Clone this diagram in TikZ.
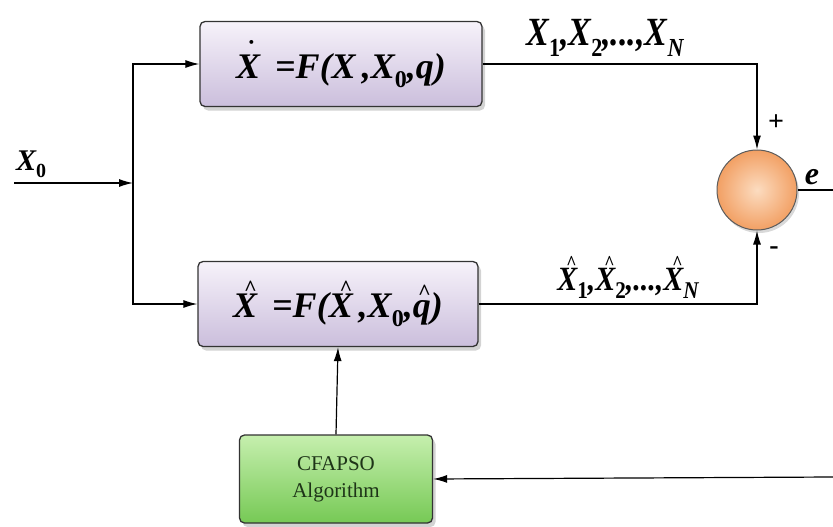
\documentclass[tikz,border=0pt]{standalone}
\usepackage{fontspec}
\setmainfont{Liberation Serif}
\newfontfamily\tf{Liberation Serif}
\usetikzlibrary{arrows.meta,shadows}
\definecolor{lavtop}{HTML}{F6F2FA}
\definecolor{lavbot}{HTML}{CBBEDC}
\definecolor{grntop}{HTML}{C6EFAE}
\definecolor{grnbot}{HTML}{76C955}
\definecolor{orin}{HTML}{FCDCC0}
\definecolor{orout}{HTML}{F2A064}
\definecolor{bord}{HTML}{333333}
\definecolor{algtext}{HTML}{1E3418}
\newcommand\lsub[3]{\raisebox{-#1}{\fontsize{#2}{#2}\selectfont #3}}
\newcommand\accX[4]{\makebox[0pt][l]{\hspace{#1}\raisebox{#2}{\upshape\fontsize{#3}{#3}\selectfont #4}}}
\tikzset{
  every node/.append style={font=\tf},
  procbox/.style={draw=bord, line width=1.3pt, rounded corners=5pt,
    top color=lavtop, bottom color=lavbot, minimum width=282pt, minimum height=85pt,
    drop shadow={opacity=0.35, shadow xshift=3pt, shadow yshift=-4pt}, inner sep=0pt},
  algbox/.style={draw=bord, line width=1.3pt, rounded corners=5pt,
    top color=grntop, bottom color=grnbot, minimum width=193pt, minimum height=88pt,
    drop shadow={opacity=0.35, shadow xshift=3pt, shadow yshift=-4pt}, inner sep=0pt,
    align=center, text=algtext, font=\tf\fontsize{21}{25}\selectfont},
  sumnode/.style={circle, draw=bord!80, line width=1pt, minimum size=80pt,
    inner color=orin, outer color=orout, drop shadow={opacity=0.3, shadow xshift=2pt, shadow yshift=-3pt}},
  conn/.style={line width=1.2pt, black},
  arr/.style={conn, -{Latex[length=14pt,width=8pt]}},
  lbl/.style={inner sep=0pt, font=\tf\bfseries\itshape}
}
\begin{document}
\begin{tikzpicture}[x=1pt,y=-1pt]
\useasboundingbox (0,0) rectangle (833,527);
\node[procbox] (top) at (341,64) {\tf\fontsize{36}{40}\selectfont\bfseries\itshape
  \accX{0.3em}{0.55em}{26pt}{\textbf{˙}}X\ \,=F(X\,,X\lsub{9pt}{24pt}{\upshape 0},q)};
\node[procbox, minimum width=280pt] (bot) at (338,304) {\tf\fontsize{36}{40}\selectfont\bfseries\itshape
  \accX{0.3em}{0.6em}{22pt}{\textasciicircum}X\ \,=F(\accX{0.3em}{0.6em}{22pt}{\textasciicircum}X\,,X\lsub{9pt}{24pt}{\upshape 0},\accX{0.15em}{0.5em}{22pt}{\textasciicircum}q)};
\node[algbox] (alg) at (336,479) {CFAPSO\\[2pt]Algorithm};
\node[sumnode] (sum) at (757,190) {};
\coordinate (in) at (14,183);
\coordinate (split) at (133,183);
\coordinate (eout) at (833,190);
\coordinate (fb) at (833,477);
\draw[arr] (in) -- (split);
\draw[arr] (split) |- (top.west);
\draw[arr] (split) |- (bot.west);
\draw[arr] (top.east) -| (sum.north);
\draw[arr] (bot.east) -| (sum.south);
\draw[conn] (sum.east) -- (eout);
\draw[arr] (fb) -- (alg.east);
\draw[arr] (alg.north) -- (bot.south);
\node[lbl, anchor=base west] (lx0) at (16,170) {\fontsize{30}{30}\selectfont X\lsub{7pt}{20pt}{\upshape 0}};
\node[lbl, anchor=base] (lxs) at (605,46) {\scalebox{0.85}[1]{\fontsize{40}{40}\selectfont X\lsub{10pt}{26pt}{\upshape 1},X\lsub{10pt}{26pt}{\upshape 2},...,X\lsub{10pt}{26pt}{N}}};
\node[lbl, anchor=base] (lxh) at (628,290) {\scalebox{0.88}[1]{\fontsize{34}{34}\selectfont \accX{0.3em}{0.6em}{20pt}{\textasciicircum}X\lsub{8pt}{24pt}{\upshape 1},\accX{0.3em}{0.6em}{20pt}{\textasciicircum}X\lsub{8pt}{24pt}{\upshape 2},...,\accX{0.3em}{0.6em}{20pt}{\textasciicircum}X\lsub{8pt}{24pt}{N}}};
\node[lbl, anchor=base] (lp) at (776,130) {\upshape\fontsize{28}{28}\selectfont +};
\node[lbl, anchor=base] (lm) at (774,254) {\upshape\fontsize{28}{28}\selectfont -};
\node[lbl, anchor=base] (le) at (812,184) {\fontsize{32}{32}\selectfont e};
\end{tikzpicture}
\end{document}
